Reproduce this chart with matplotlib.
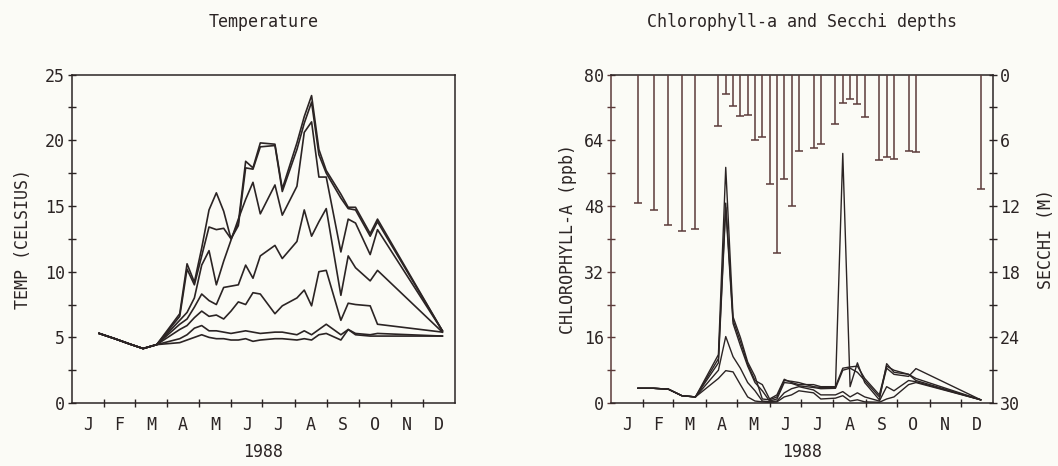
import matplotlib
matplotlib.use("Agg")
import matplotlib.pyplot as plt
from matplotlib.ticker import FixedLocator, NullFormatter

# ---- data (day of year 1988) ----
days = [26, 41, 55, 68, 81, 103, 110, 117, 124, 131, 138, 145, 152, 159, 166,
        173, 180, 194, 201, 215, 222, 229, 236, 243, 257, 264, 271, 285, 292, 354]

temp_0m = [5.3, 4.9, 4.5, 4.15, 4.45, 6.8, 10.6, 9.2, 11.8, 14.7, 16.0, 14.6, 12.5, 13.7, 18.4,
           17.9, 19.8, 19.7, 16.3, 19.8, 21.8, 23.4, 19.3, 17.7, 15.9, 14.9, 14.9, 12.9, 14.0, 5.5]
temp_1m = [5.3, 4.9, 4.5, 4.15, 4.45, 6.6, 10.2, 9.0, 11.2, 13.4, 13.2, 13.3, 12.5, 13.5, 17.9,
           17.8, 19.5, 19.6, 16.1, 19.3, 21.3, 22.9, 18.9, 17.5, 15.6, 14.8, 14.7, 12.7, 13.8, 5.5]
temp_2m = [5.3, 4.9, 4.5, 4.15, 4.45, 6.3, 6.9, 8.0, 10.5, 11.6, 9.0, 10.8, 12.4, 14.0, 15.5,
           16.8, 14.4, 16.6, 14.3, 16.5, 20.6, 21.4, 17.2, 17.2, 11.5, 14.0, 13.7, 11.3, 13.2, 5.5]
temp_3m = [5.3, 4.9, 4.5, 4.15, 4.45, 6.0, 6.4, 7.3, 8.3, 7.8, 7.5, 8.8, 8.9, 9.0, 10.5,
           9.5, 11.2, 12.0, 11.0, 12.3, 14.7, 12.7, 13.8, 14.8, 8.2, 11.2, 10.3, 9.3, 10.1, 5.4]
temp_5m = [5.3, 4.9, 4.5, 4.15, 4.45, 5.6, 5.9, 6.5, 7.0, 6.6, 6.7, 6.4, 7.0, 7.7, 7.5,
           8.4, 8.3, 6.8, 7.4, 8.0, 8.6, 7.4, 10.0, 10.1, 6.3, 7.6, 7.5, 7.4, 6.0, 5.4]
temp_10m = [5.3, 4.9, 4.5, 4.15, 4.45, 4.9, 5.2, 5.7, 5.9, 5.5, 5.5, 5.4, 5.3, 5.4, 5.5,
            5.4, 5.3, 5.4, 5.4, 5.2, 5.5, 5.2, 5.6, 6.0, 5.2, 5.6, 5.3, 5.2, 5.3, 5.1]
temp_20m = [5.3, 4.9, 4.5, 4.15, 4.45, 4.6, 4.8, 5.0, 5.2, 5.0, 4.9, 4.9, 4.8, 4.8, 4.9,
            4.7, 4.8, 4.9, 4.9, 4.8, 4.9, 4.8, 5.2, 5.3, 4.8, 5.6, 5.2, 5.1, 5.1, 5.1]

chl_a = [3.6, 3.6, 3.4, 1.8, 1.5, 11.8, 57.4, 21.0, 16.0, 10.0, 6.5, 1.0, 0.8, 1.5, 5.5,
         5.3, 5.0, 4.0, 3.8, 3.8, 60.8, 4.0, 9.8, 5.0, 0.8, 9.6, 7.5, 7.0, 5.5, 0.8]
chl_b = [3.6, 3.6, 3.4, 1.8, 1.5, 10.8, 48.7, 20.2, 15.0, 9.5, 5.5, 4.5, 1.0, 2.0, 5.8,
         5.0, 4.5, 4.5, 4.0, 4.0, 8.5, 8.8, 9.0, 6.0, 2.0, 9.0, 8.0, 7.0, 6.0, 0.8]
chl_c = [3.6, 3.6, 3.4, 1.8, 1.5, 9.8, 47.6, 19.4, 14.0, 9.0, 5.0, 3.0, 0.5, 1.0, 5.0,
         4.8, 4.2, 3.8, 3.5, 3.6, 8.0, 8.5, 7.5, 5.5, 1.5, 8.5, 7.0, 6.5, 8.4, 0.8]
chl_d = [3.6, 3.6, 3.4, 1.8, 1.5, 8.0, 16.2, 11.3, 8.5, 5.0, 3.0, 0.5, 0.3, 0.5, 2.5,
         3.5, 4.0, 3.2, 2.0, 2.0, 2.8, 1.5, 2.5, 1.5, 0.5, 4.0, 3.0, 5.5, 5.2, 0.8]
chl_e = [3.6, 3.6, 3.4, 1.8, 1.5, 6.0, 7.9, 7.6, 4.5, 1.5, 0.5, 0.3, 0.2, 0.3, 1.5,
         2.0, 3.0, 2.5, 1.0, 1.2, 1.8, 0.5, 0.8, 0.3, 0.2, 1.0, 1.5, 4.5, 5.0, 0.8]

secchi = [11.75, 12.4, 13.7, 14.3, 14.1, 4.7, 1.8, 2.9, 3.75, 3.7, 6.0, 5.7, 10.0, 16.3, 9.5,
          12.0, 7.0, 6.7, 6.3, 4.5, 2.6, 2.2, 2.7, 3.9, 7.8, 7.5, 7.7, 7.0, 7.1, 10.45]

month_labels = ["J", "F", "M", "A", "M", "J", "J", "A", "S", "O", "N", "D"]
month_starts = [0, 31, 60, 91, 121, 152, 182, 213, 244, 274, 305, 335, 366]

BG = "#fbfbf6"
INK = "#2b2424"
BAR = "#5b3a3a"
FONT = "DejaVu Sans Mono"
FS = 12

fig = plt.figure(figsize=(10.58, 4.66), dpi=100, facecolor=BG)
ax1 = fig.add_axes([0.068, 0.135, 0.362, 0.705], facecolor=BG)
ax2 = fig.add_axes([0.5773, 0.135, 0.3615, 0.705], facecolor=BG)


def month_axis(ax):
    ax.set_xlim(0, 366)
    ax.xaxis.set_major_locator(FixedLocator(month_starts[1:-1]))
    ax.xaxis.set_major_formatter(NullFormatter())
    mids = [(a + b) / 2 for a, b in zip(month_starts[:-1], month_starts[1:])]
    ax.xaxis.set_minor_locator(FixedLocator(mids))
    ax.set_xticklabels(month_labels, minor=True)
    ax.tick_params(axis="x", which="major", direction="inout", length=6, width=1, color=INK)
    ax.tick_params(axis="x", which="minor", length=0, pad=9, labelsize=FS, labelcolor=INK)
    for lab in ax.get_xticklabels(minor=True):
        lab.set_family(FONT)
    ax.set_xlabel("1988", family=FONT, fontsize=FS, color=INK, labelpad=7)
    for sp in ax.spines.values():
        sp.set_color(INK)
        sp.set_linewidth(1.1)


# ---- Temperature panel ----
for series in [temp_20m, temp_10m, temp_5m, temp_3m, temp_2m, temp_1m, temp_0m]:
    ax1.plot(days, series, color=INK, lw=1.2)
ax1.set_ylim(0, 25)
ax1.set_yticks([0, 5, 10, 15, 20, 25])
ax1.set_yticks([2.5, 7.5, 12.5, 17.5, 22.5], minor=True)
ax1.tick_params(axis="y", which="both", direction="inout", length=6, width=1, color=INK,
                labelsize=FS, labelcolor=INK, pad=2)
for lab in ax1.get_yticklabels():
    lab.set_family(FONT)
month_axis(ax1)
ax1.set_ylabel("TEMP (CELSIUS)", family=FONT, fontsize=FS, color=INK, labelpad=9)
ax1.set_title("Temperature", family=FONT, fontsize=FS, color=INK, pad=34)

# ---- Chlorophyll / Secchi panel ----
for series in [chl_e, chl_d, chl_c, chl_b, chl_a]:
    ax2.plot(days, series, color=INK, lw=1.0)
ax2.set_ylim(0, 80)
ax2.set_yticks([0, 16, 32, 48, 64, 80])
ax2.set_yticks([8, 24, 40, 56, 72], minor=True)
ax2.tick_params(axis="y", which="both", direction="inout", length=6, width=1, color=BAR,
                labelsize=FS, labelcolor=INK, pad=2)
for lab in ax2.get_yticklabels():
    lab.set_family(FONT)
month_axis(ax2)
ax2.spines["left"].set_color(BAR)
ax2.set_ylabel("CHLOROPHYLL-A (ppb)", family=FONT, fontsize=FS, color=INK, labelpad=5)
ax2.set_title("Chlorophyll-a and Secchi depths", family=FONT, fontsize=FS, color=INK, pad=34)

ax3 = ax2.twinx()
ax3.set_ylim(30, 0)
ax3.vlines(days, 0, secchi, color=BAR, lw=1.1)
ax3.plot(days, secchi, ls="none", marker="_", ms=6, mew=1.1, color=BAR)
ax3.set_yticks([0, 6, 12, 18, 24, 30])
ax3.set_yticks([3, 9, 15, 21, 27], minor=True)
ax3.tick_params(axis="y", which="both", direction="inout", length=6, width=1, color=INK,
                labelsize=FS, labelcolor=INK, pad=2)
for lab in ax3.get_yticklabels():
    lab.set_family(FONT)
ax3.set_ylabel("SECCHI (M)", family=FONT, fontsize=FS, color=INK, labelpad=12)
for sp in ax3.spines.values():
    sp.set_visible(False)

fig.savefig("out.png", dpi=100, facecolor=BG)
